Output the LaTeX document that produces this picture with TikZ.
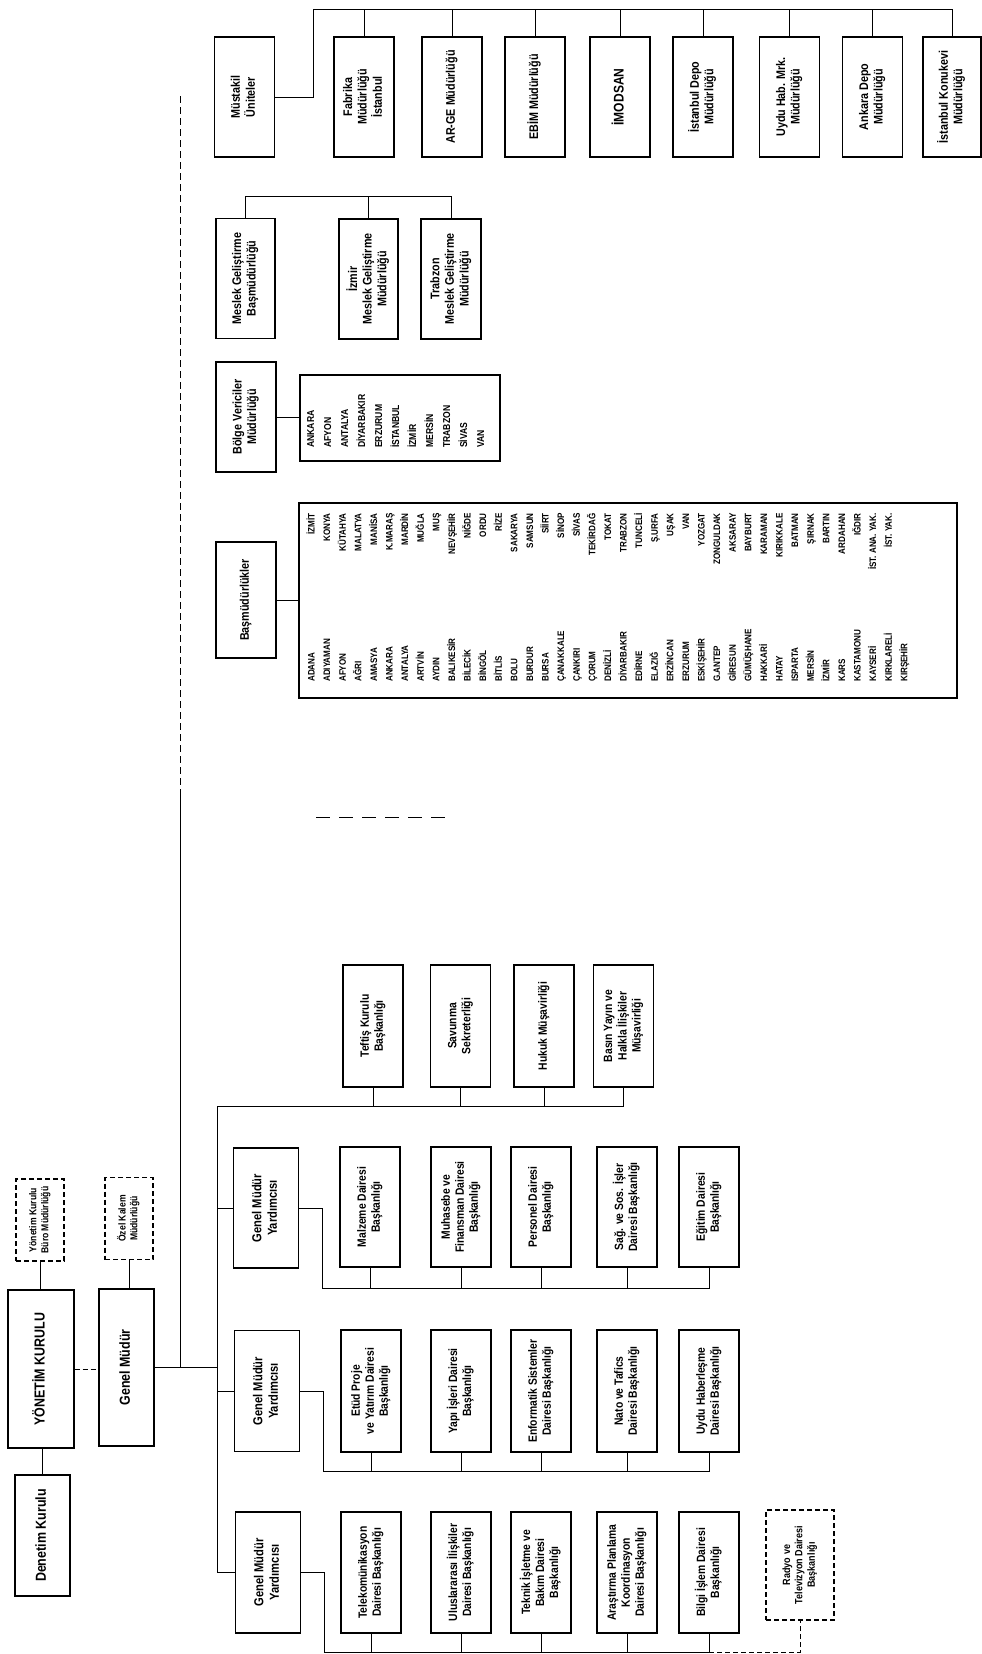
\documentclass[tikz,border=0pt]{standalone}
\usepackage{fontspec}
\setmainfont{Liberation Sans}[UprightFont={* Bold}, FakeStretch=0.86]
\usepackage{graphicx}
\usetikzlibrary{positioning,calc}

\newcommand{\vt}[1]{\rotatebox{90}{\begin{tabular}{@{}c@{}}#1\end{tabular}}}

\begin{document}
\begin{tikzpicture}[x=1pt, y=-1pt,
  unitbox/.style={draw, line width=1.1pt, inner sep=1pt, minimum width=60pt,
               minimum height=121pt, font=\fontsize{12}{14}\selectfont},
  gmybox/.style={unitbox, minimum width=65pt, font=\fontsize{13}{15.4}\selectfont},
  topbox/.style={unitbox, minimum height=120pt, font=\fontsize{12.5}{14.6}\selectfont},
  headbox/.style={unitbox, minimum width=55pt, minimum height=157pt, font=\fontsize{14.5}{17}\selectfont},
  officebox/.style={unitbox, dash pattern=on 5pt off 3pt, minimum width=48pt,
               minimum height=82pt, font=\fontsize{10}{11.8}\selectfont},
  listbox/.style={draw, line width=1.1pt, inner sep=0pt},
  namelist/.style={inner sep=0pt, font=\fontsize{9.4}{15.6}\selectfont},
  conn/.style={line width=1pt}
]
\useasboundingbox (0,0) rectangle (982,1654);

% --- Müstakil Üniteler
\node[topbox] (must)  at (244.5,97) {\vt{Müstakil\\Üniteler}};
\node[topbox] (fab)   at (364,97)   {\vt{Fabrika\\Müdürlüğü\\İstanbul}};
\node[topbox] (arge)  at (452,97)   {\vt{AR-GE Müdürlüğü}};
\node[topbox] (ebim)  at (535,97)   {\vt{EBİM Müdürlüğü}};
\node[topbox, font=\fontsize{14}{16}\selectfont] (imod) at (620,97) {\vt{İMODSAN}};
\node[topbox] (idepo) at (703,97)   {\vt{İstanbul Depo\\Müdürlüğü}};
\node[topbox] (uydu)  at (789.5,97) {\vt{Uydu Hab. Mrk.\\Müdürlüğü}};
\node[topbox] (adepo) at (872.5,97) {\vt{Ankara Depo\\Müdürlüğü}};
\node[topbox, minimum width=58pt] (konuk) at (952,97) {\vt{İstanbul Konukevi\\Müdürlüğü}};

\coordinate (topline) at (313,10);
\draw[conn] (must.east) -| (topline) -- (konuk.north |- topline) -- (konuk.north);
\draw[conn] (fab.north)   -- (fab.north |- topline);
\draw[conn] (arge.north)  -- (arge.north |- topline);
\draw[conn] (ebim.north)  -- (ebim.north |- topline);
\draw[conn] (imod.north)  -- (imod.north |- topline);
\draw[conn] (idepo.north) -- (idepo.north |- topline);
\draw[conn] (uydu.north)  -- (uydu.north |- topline);
\draw[conn] (adepo.north) -- (adepo.north |- topline);

% --- Meslek Geliştirme
\node[topbox, minimum width=59pt] (mgb)  at (245.5,278.5) {\vt{Meslek Geliştirme\\Başmüdürlüğü}};
\node[topbox, minimum width=59pt] (mizm) at (368.5,279)   {\vt{İzmir\\Meslek Geliştirme\\Müdürlüğü}};
\node[topbox] (mtrb) at (451,279) {\vt{Trabzon\\Meslek Geliştirme\\Müdürlüğü}};

\coordinate (mline) at (0,196);
\draw[conn] (mgb.north) |- (mtrb.north |- mline) -- (mtrb.north);
\draw[conn] (mizm.north) -- (mizm.north |- mline);

% --- Bölge Vericiler
\node[topbox, minimum height=110pt] (bvm) at (246,417) {\vt{Bölge Vericiler\\Müdürlüğü}};
\node[listbox, minimum width=200pt, minimum height=86pt] (blist) at (400,418) {};
\node[namelist, font=\fontsize{10}{17}\selectfont, anchor=south west] (bnames) at (302,448)
  {\rotatebox{90}{\begin{tabular}{@{}l@{}}ANKARA\\AFYON\\ANTALYA\\DİYARBAKIR\\ERZURUM\\İSTANBUL\\İZMİR\\MERSİN\\TRABZON\\SİVAS\\VAN\end{tabular}}};
\draw[conn] (bvm.east) -- (bvm.east -| blist.west);

% --- Başmüdürlükler
\node[topbox, minimum height=116pt] (bmd) at (246,600) {\vt{Başmüdürlükler}};
\node[listbox, minimum width=658pt, minimum height=195pt] (plist) at (628,600.5) {};
\node[namelist, anchor=south west] (pnames1) at (303.5,682)
  {\rotatebox{90}{\begin{tabular}{@{}l@{}}ADANA\\ADIYAMAN\\AFYON\\AĞRI\\AMASYA\\ANKARA\\ANTALYA\\ARTVİN\\AYDIN\\BALIKESİR\\BİLECİK\\BİNGÖL\\BİTLİS\\BOLU\\BURDUR\\BURSA\\ÇANAKKALE\\ÇANKIRI\\ÇORUM\\DENİZLİ\\DİYARBAKIR\\EDİRNE\\ELAZIĞ\\ERZİNCAN\\ERZURUM\\ESKİŞEHİR\\G.ANTEP\\GİRESUN\\GÜMÜŞHANE\\HAKKARİ\\HATAY\\ISPARTA\\MERSİN\\İZMİR\\KARS\\KASTAMONU\\KAYSERİ\\KIRKLARELİ\\KIRŞEHİR\end{tabular}}};
\node[namelist, anchor=north west] (pnames2) at (303.5,513)
  {\rotatebox{90}{\begin{tabular}{@{}r@{}}İZMİT\\KONYA\\KÜTAHYA\\MALATYA\\MANİSA\\K.MARAŞ\\MARDİN\\MUĞLA\\MUŞ\\NEVŞEHİR\\NİĞDE\\ORDU\\RİZE\\SAKARYA\\SAMSUN\\SİİRT\\SİNOP\\SİVAS\\TEKİRDAĞ\\TOKAT\\TRABZON\\TUNCELİ\\Ş.URFA\\UŞAK\\VAN\\YOZGAT\\ZONGULDAK\\AKSARAY\\BAYBURT\\KARAMAN\\KIRIKKALE\\BATMAN\\ŞIRNAK\\BARTIN\\ARDAHAN\\IĞDIR\\İST. ANA. YAK.\\İST. YAK.\end{tabular}}};
\draw[conn] (bmd.east) -- (bmd.east -| plist.west);

% --- Yönetim Kurulu, Genel Müdür
\node[headbox, minimum height=121pt] (denetim) at (42.5,1535.5) {\vt{Denetim Kurulu}};
\node[headbox, minimum width=66pt, minimum height=158pt] (yk) at (41,1369) {\vt{YÖNETİM KURULU}};
\node[officebox] (buro) at (40,1220)   {\vt{Yönetim Kurulu\\Büro Müdürlüğü}};
\node[headbox] (gm)     at (126.5,1367.5) {\vt{Genel Müdür}};
\node[officebox] (ozel) at (129,1218.5) {\vt{Özel Kalem\\Müdürlüğü}};

\draw[conn] (denetim.north) -- (denetim.north |- yk.south);
\draw[conn] (buro.south) -- (buro.south |- yk.north);
\draw[conn, dash pattern=on 5pt off 3pt] (yk.east) -- (yk.east -| gm.west);
\draw[conn] (ozel.south) -- (ozel.south |- gm.north);

\coordinate (mvtop) at (180,96);
\coordinate (mvmid) at (180,790);
\draw[conn, dash pattern=on 7pt off 4pt] (mvtop) -- (mvmid);
\draw[conn] (mvmid) -- (mvmid |- gm.east);
\coordinate (frag1) at (316,817);
\coordinate (frag2) at (448,817);
\draw[conn, dash pattern=on 14pt off 9pt] (frag1) -- (frag2);

% --- staff units
\node[unitbox, minimum height=122pt] (teftis)  at (373,1026)   {\vt{Teftiş Kurulu\\Başkanlığı}};
\node[unitbox, minimum height=122pt] (savunma) at (460.5,1026) {\vt{Savunma\\Sekreterliği}};
\node[unitbox, minimum height=122pt] (hukuk)   at (544,1026)   {\vt{Hukuk Müşavirliği}};
\node[unitbox, minimum height=122pt] (basin)   at (623.5,1026) {\vt{Basın Yayın ve\\Halkla İlişkiler\\Müşavirliği}};

% --- Genel Müdür Yardımcıları
\node[gmybox, minimum height=120pt] (gmy1) at (266,1208) {\vt{Genel Müdür\\Yardımcısı}};
\node[gmybox] (gmy2) at (267,1391)   {\vt{Genel Müdür\\Yardımcısı}};
\node[gmybox] (gmy3) at (268,1572.5) {\vt{Genel Müdür\\Yardımcısı}};

\coordinate (stafftop) at (217,1106);
\draw[conn] (gm.east) -- (gm.east -| stafftop);
\draw[conn] (basin.south) |- (stafftop) -- (stafftop |- gmy3.west) -- (gmy3.west);
\draw[conn] (teftis.south)  -- (teftis.south |- stafftop);
\draw[conn] (savunma.south) -- (savunma.south |- stafftop);
\draw[conn] (hukuk.south)   -- (hukuk.south |- stafftop);
\draw[conn] (gmy1.west) -- (gmy1.west -| stafftop);
\draw[conn] (gmy2.west) -- (gmy2.west -| stafftop);

% row 1
\node[unitbox, minimum height=120pt] (malz)   at (370,1207) {\vt{Malzeme Dairesi\\Başkanlığı}};
\node[unitbox, minimum height=120pt] (muh)    at (461,1207) {\vt{Muhasebe ve\\Finansman Dairesi\\Başkanlığı}};
\node[unitbox, minimum height=120pt] (pers)   at (541,1207) {\vt{Personel Dairesi\\Başkanlığı}};
\node[unitbox, minimum height=120pt] (sag)    at (627,1207) {\vt{Sağ. ve Sos. İşler\\Dairesi Başkanlığı}};
\node[unitbox, minimum height=120pt] (egitim) at (709,1207) {\vt{Eğitim Dairesi\\Başkanlığı}};

\coordinate (row1) at (322,1288);
\draw[conn] (gmy1.east) -| (row1) -- (egitim.south |- row1) -- (egitim.south);
\draw[conn] (malz.south) -- (malz.south |- row1);
\draw[conn] (muh.south)  -- (muh.south |- row1);
\draw[conn] (pers.south) -- (pers.south |- row1);
\draw[conn] (sag.south)  -- (sag.south |- row1);

% row 2
\node[unitbox, minimum height=122pt] (etud)    at (371,1391) {\vt{Etüd Proje\\ve Yatırım Dairesi\\Başkanlığı}};
\node[unitbox, minimum height=122pt] (yapi)    at (461,1391) {\vt{Yapı İşleri Dairesi\\Başkanlığı}};
\node[unitbox, minimum height=122pt] (enf)     at (541,1391) {\vt{Enformatik Sistemler\\Dairesi Başkanlığı}};
\node[unitbox, minimum height=122pt] (nato)    at (627,1391) {\vt{Nato ve Tafics\\Dairesi Başkanlığı}};
\node[unitbox, minimum height=122pt] (uyduhab) at (709,1391) {\vt{Uydu Haberleşme\\Dairesi Başkanlığı}};

\coordinate (row2) at (323,1471);
\draw[conn] (gmy2.east) -| (row2) -- (uyduhab.south |- row2) -- (uyduhab.south);
\draw[conn] (etud.south) -- (etud.south |- row2);
\draw[conn] (yapi.south) -- (yapi.south |- row2);
\draw[conn] (enf.south)  -- (enf.south |- row2);
\draw[conn] (nato.south) -- (nato.south |- row2);

% row 3
\node[unitbox] (tele)   at (371,1572.5) {\vt{Telekomünikasyon\\Dairesi Başkanlığı}};
\node[unitbox] (ulus)   at (461,1572.5) {\vt{Uluslararası İlişkiler\\Dairesi Başkanlığı}};
\node[unitbox] (teknik) at (541,1572.5) {\vt{Teknik İşletme ve\\Bakım Dairesi\\Başkanlığı}};
\node[unitbox] (arast)  at (627,1572.5) {\vt{Araştırma Planlama\\Koordinasyon\\Dairesi Başkanlığı}};
\node[unitbox] (bilgi)  at (709,1572.5) {\vt{Bilgi İşlem Dairesi\\Başkanlığı}};
\node[unitbox, dash pattern=on 5pt off 3pt, minimum width=68pt, minimum height=110pt,
      font=\fontsize{10.5}{12.4}\selectfont] (radyo) at (800,1565) {\vt{Radyo ve\\Televizyon Dairesi\\Başkanlığı}};

\coordinate (row3) at (324,1652);
\draw[conn] (gmy3.east) -| (row3) -- (bilgi.south |- row3) -- (bilgi.south);
\draw[conn] (tele.south)   -- (tele.south |- row3);
\draw[conn] (ulus.south)   -- (ulus.south |- row3);
\draw[conn] (teknik.south) -- (teknik.south |- row3);
\draw[conn] (arast.south)  -- (arast.south |- row3);
\draw[conn, dash pattern=on 5pt off 3pt] (bilgi.south |- row3) -- (radyo.south |- row3) -- (radyo.south);

\end{tikzpicture}
\end{document}
